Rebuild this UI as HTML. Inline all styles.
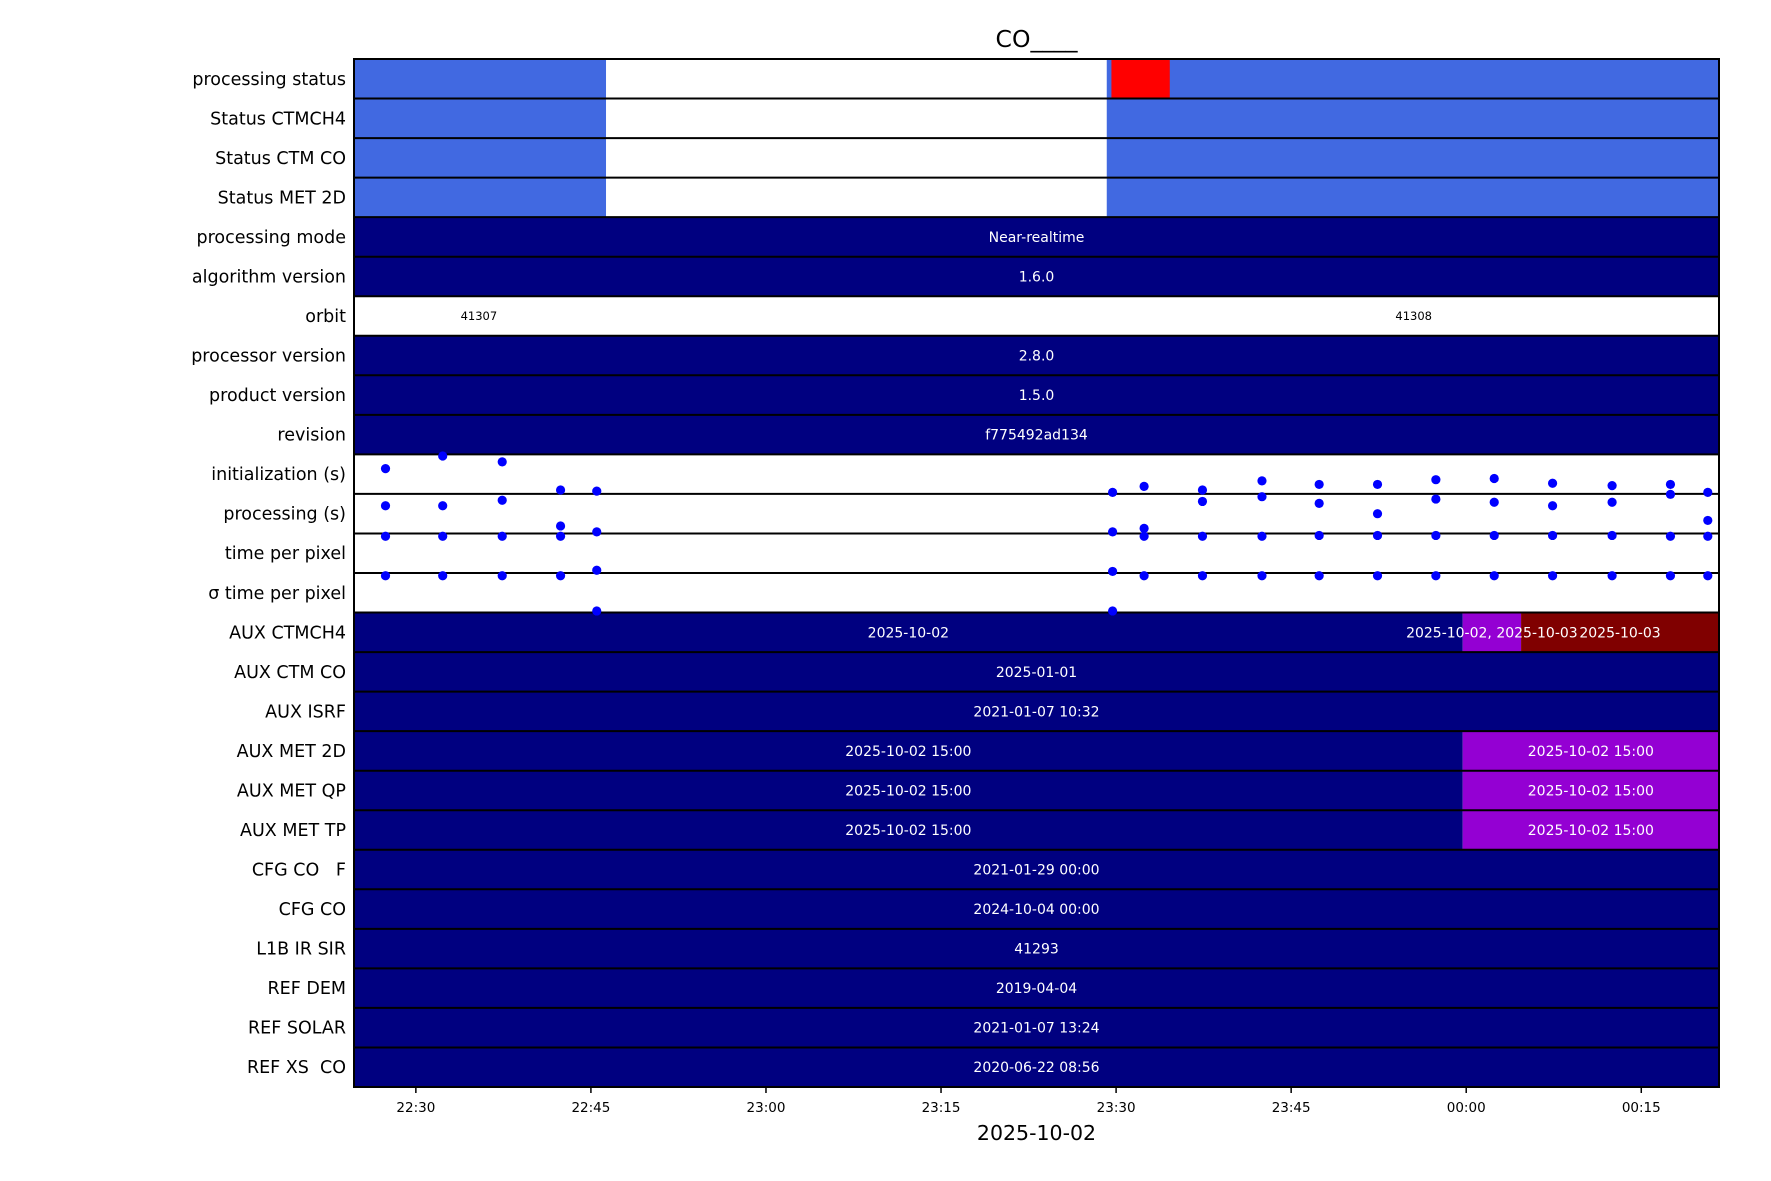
<!DOCTYPE html>
<html><head><meta charset="utf-8"><style>
body{margin:0;background:#fff;}
svg{display:block;font-family:"DejaVu Sans","Liberation Sans",sans-serif;}
text{white-space:pre;}
</style></head><body>
<svg id="chart" width="1771" height="1181" viewBox="0 0 1771 1181" xmlns="http://www.w3.org/2000/svg"></svg>
<script>
// time in minutes after 22:00
const rowLabels = ["processing status","Status CTMCH4","Status CTM CO","Status MET 2D","processing mode","algorithm version","orbit","processor version","product version","revision","initialization (s)","processing (s)","time per pixel","\u03c3 time per pixel","AUX CTMCH4","AUX CTM CO","AUX ISRF","AUX MET 2D","AUX MET QP","AUX MET TP","CFG CO   F","CFG CO","L1B IR SIR","REF DEM","REF SOLAR","REF XS  CO"];
const tickVals = [30,45,60,75,90,105,120,135];
const tickLabels = ["22:30","22:45","23:00","23:15","23:30","23:45","00:00","00:15"];
// segments: [row, start, end, color, text]
const segments = [
 [0,24.7,46.3,"#4169e1",""],[0,46.3,89.2,"#ffffff",""],[0,89.2,141.66,"#4169e1",""],[0,89.6,94.6,"#ff0000",""],
 [1,24.7,46.3,"#4169e1",""],[1,46.3,89.2,"#ffffff",""],[1,89.2,141.66,"#4169e1",""],
 [2,24.7,46.3,"#4169e1",""],[2,46.3,89.2,"#ffffff",""],[2,89.2,141.66,"#4169e1",""],
 [3,24.7,46.3,"#4169e1",""],[3,46.3,89.2,"#ffffff",""],[3,89.2,141.66,"#4169e1",""],
 [4,24.7,141.66,"#000080","Near-realtime"],
 [5,24.7,141.66,"#000080","1.6.0"],
 [7,24.7,141.66,"#000080","2.8.0"],
 [8,24.7,141.66,"#000080","1.5.0"],
 [9,24.7,141.66,"#000080","f775492ad134"],
 [14,24.7,119.7,"#000080","2025-10-02"],[14,119.7,124.7,"#9400d3","2025-10-02, 2025-10-03"],[14,124.7,141.66,"#800000","2025-10-03"],
 [15,24.7,141.66,"#000080","2025-01-01"],
 [16,24.7,141.66,"#000080","2021-01-07 10:32"],
 [17,24.7,119.7,"#000080","2025-10-02 15:00"],[17,119.7,141.66,"#9400d3","2025-10-02 15:00"],
 [18,24.7,119.7,"#000080","2025-10-02 15:00"],[18,119.7,141.66,"#9400d3","2025-10-02 15:00"],
 [19,24.7,119.7,"#000080","2025-10-02 15:00"],[19,119.7,141.66,"#9400d3","2025-10-02 15:00"],
 [20,24.7,141.66,"#000080","2021-01-29 00:00"],
 [21,24.7,141.66,"#000080","2024-10-04 00:00"],
 [22,24.7,141.66,"#000080","41293"],
 [23,24.7,141.66,"#000080","2019-04-04"],
 [24,24.7,141.66,"#000080","2021-01-07 13:24"],
 [25,24.7,141.66,"#000080","2020-06-22 08:56"]
];
const orbitTimes = [35.4,115.5];
const orbitLabels = ["41307","41308"];
const dotTimes = [27.4,32.3,37.4,42.4,45.5,89.7,92.4,97.4,102.5,107.4,112.4,117.4,122.4,127.4,132.5,137.5,140.7];
const initVals = [0.64,0.96,0.81,0.10,0.07,0.04,0.19,0.10,0.33,0.24,0.24,0.36,0.39,0.27,0.21,0.24,0.04];
const procVals = [0.70,0.70,0.84,0.19,0.04,0.04,0.13,0.81,0.93,0.76,0.50,0.87,0.79,0.70,0.79,0.99,0.33];
const tppVals = [0.93,0.93,0.93,0.93,0.07,0.04,0.93,0.93,0.93,0.95,0.95,0.95,0.95,0.95,0.95,0.93,0.93];
const sigVals = [0.93,0.93,0.93,0.93,0.04,0.04,0.93,0.93,0.93,0.93,0.93,0.93,0.93,0.93,0.93,0.93,0.93];

const NS="http://www.w3.org/2000/svg";
const svg=document.getElementById('chart');
const L=354,R=1719,T=59,B=1087,N=rowLabels.length,RH=(B-T)/N;
const x0=24.7,x1=141.66;
const X=t=>L+(t-x0)/(x1-x0)*(R-L);
const rowTop=i=>T+i*RH;
const Yv=(i,v)=>rowTop(i)+RH-v*RH;
function mk(tag,attrs,txt){const e=document.createElementNS(NS,tag);for(const k in attrs)e.setAttribute(k,attrs[k]);if(txt!==undefined)e.textContent=txt;svg.appendChild(e);return e;}

segments.forEach(s=>{
 const r=mk('rect',{x:X(s[1]),y:rowTop(s[0]),width:X(s[2])-X(s[1]),height:RH,fill:s[3]});
 
 
});
segments.forEach(s=>{
 if(!s[4])return;
 const t=mk('text',{x:(X(s[1])+X(s[2]))/2,y:rowTop(s[0])+RH/2+5,'text-anchor':'middle','font-size':14,fill:'#fff'},s[4]);
 
 
});
orbitTimes.forEach((o,i)=>{
 const t=mk('text',{x:X(o),y:rowTop(6)+RH/2+4,'text-anchor':'middle','font-size':11.5,fill:'#000'},orbitLabels[i]);
 
 
});
for(let i=1;i<N;i++){
 const l=mk('line',{x1:L,x2:R,y1:rowTop(i),y2:rowTop(i),stroke:'#000','stroke-width':2});
 
 
}
const frame=mk('rect',{x:L,y:T,width:R-L,height:B-T,fill:'none',stroke:'#000','stroke-width':2});


[[10,initVals],[11,procVals],[12,tppVals],[13,sigVals]].forEach(([row,vals])=>{
 vals.forEach((v,i)=>{
  const c=mk('circle',{cx:X(dotTimes[i]),cy:Yv(row,v),r:4.6,fill:'#0000ff'});
  
  
 });
});
rowLabels.forEach((lab,i)=>{
 const t=mk('text',{x:346,y:rowTop(i)+RH/2+6,'text-anchor':'end','font-size':17.5,fill:'#000'},lab);
 
 
});
tickVals.forEach((v,i)=>{
 const l=mk('line',{x1:X(v),x2:X(v),y1:B,y2:B+6,stroke:'#000','stroke-width':1.5});
 
 
 const t=mk('text',{x:X(v),y:B+25,'text-anchor':'middle','font-size':13.5,fill:'#000'},tickLabels[i]);
 
 
});
const title=mk('text',{x:(L+R)/2,y:47,'text-anchor':'middle','font-size':23.5,fill:'#000'},'CO____');


const xl=mk('text',{x:(L+R)/2,y:1140,'text-anchor':'middle','font-size':20.5,fill:'#000'},'2025-10-02');


</script>
</body></html>
